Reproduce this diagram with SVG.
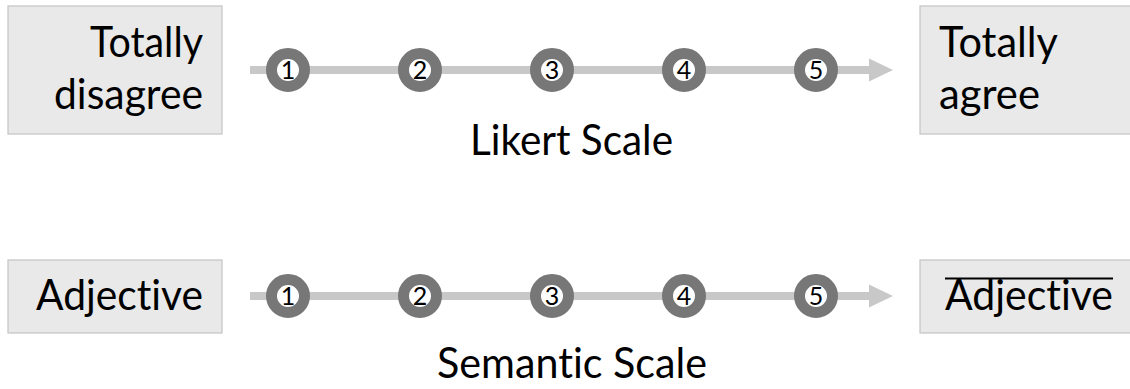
<svg xmlns="http://www.w3.org/2000/svg" width="1130" height="389" viewBox="0 0 1130 389">
<style>
.box{fill:#e9e9e9;stroke:#c4c4c4;stroke-width:1.2}
.lbl{font-family:Lato,"Liberation Sans",sans-serif;font-size:42px;fill:#000;font-variant-ligatures:none}
.ring{fill:#fff;stroke:#777;stroke-width:11}
.num{font-family:Lato,"Liberation Sans",sans-serif;font-size:25px;fill:#000;text-anchor:middle}
.line{stroke:#c8c8c8;stroke-width:8}
.head{fill:#c8c8c8}
</style>
<rect width="1130" height="389" fill="#fff"/>
<g id="connectors">
  <line class="line" x1="250" y1="70" x2="870" y2="70"/>
  <polygon class="head" points="869,58.5 893,70 869,81.5"/>
  <line class="line" x1="250" y1="296" x2="870" y2="296"/>
  <polygon class="head" points="869,284.5 893,296 869,307.5"/>
</g>
<g id="likert-left">
  <rect class="box" x="8" y="6" width="214" height="128"/>
  <text class="lbl" x="203" y="57" text-anchor="end" textLength="113" lengthAdjust="spacingAndGlyphs">Totally</text>
  <text class="lbl" x="203" y="109" text-anchor="end" textLength="149" lengthAdjust="spacingAndGlyphs">disagree</text>
</g>
<g id="likert-right">
  <rect class="box" x="920" y="6" width="220" height="128"/>
  <text class="lbl" x="939" y="57" textLength="119" lengthAdjust="spacingAndGlyphs">Totally</text>
  <text class="lbl" x="939" y="109" textLength="101" lengthAdjust="spacingAndGlyphs">agree</text>
</g>
<g id="likert-points">
  <circle class="ring" cx="288" cy="70" r="16.5"/><text class="num" x="288" y="79">1</text>
  <circle class="ring" cx="420" cy="70" r="16.5"/><text class="num" x="420" y="79">2</text>
  <circle class="ring" cx="552" cy="70" r="16.5"/><text class="num" x="552" y="79">3</text>
  <circle class="ring" cx="684" cy="70" r="16.5"/><text class="num" x="684" y="79">4</text>
  <circle class="ring" cx="816" cy="70" r="16.5"/><text class="num" x="816" y="79">5</text>
</g>
<g id="likert-title">
  <text class="lbl" x="571.5" y="155" text-anchor="middle" textLength="203" lengthAdjust="spacingAndGlyphs">Likert Scale</text>
</g>
<g id="semantic-left">
  <rect class="box" x="8" y="260" width="214" height="73"/>
  <text class="lbl" x="36" y="310" textLength="167" lengthAdjust="spacingAndGlyphs">Adjective</text>
</g>
<g id="semantic-right">
  <rect class="box" x="920" y="260" width="220" height="73"/>
  <line x1="945" y1="278.5" x2="1113" y2="278.5" stroke="#000" stroke-width="2"/>
  <text class="lbl" x="945" y="310" textLength="168" lengthAdjust="spacingAndGlyphs">Adjective</text>
</g>
<g id="semantic-points">
  <circle class="ring" cx="288" cy="296" r="16.5"/><text class="num" x="288" y="305">1</text>
  <circle class="ring" cx="420" cy="296" r="16.5"/><text class="num" x="420" y="305">2</text>
  <circle class="ring" cx="552" cy="296" r="16.5"/><text class="num" x="552" y="305">3</text>
  <circle class="ring" cx="684" cy="296" r="16.5"/><text class="num" x="684" y="305">4</text>
  <circle class="ring" cx="816" cy="296" r="16.5"/><text class="num" x="816" y="305">5</text>
</g>
<g id="semantic-title">
  <text class="lbl" x="572" y="378" text-anchor="middle" textLength="270" lengthAdjust="spacingAndGlyphs">Semantic Scale</text>
</g>
</svg>
